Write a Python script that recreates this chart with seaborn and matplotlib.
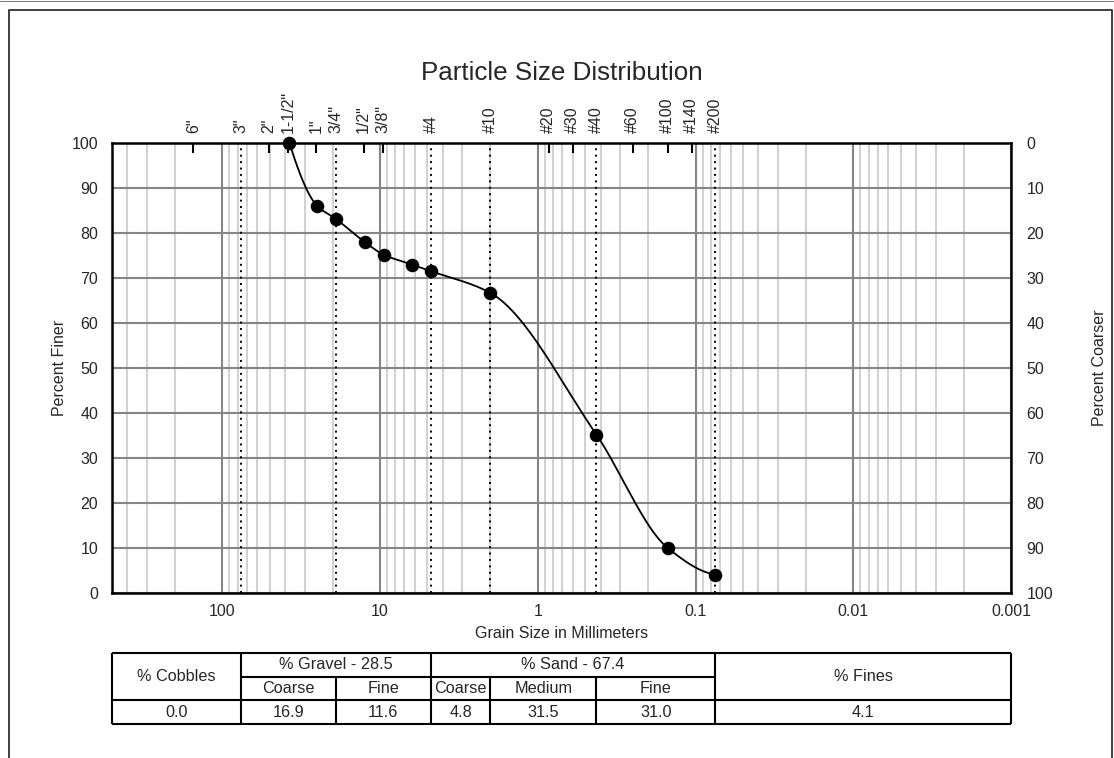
import numpy as np
import matplotlib
matplotlib.use("Agg")
import matplotlib.pyplot as plt
import matplotlib.ticker as mticker
from matplotlib.lines import Line2D
import seaborn as sns

# --- data ---
sieve_labels = ['6"', '3"', '2"', '1-1/2"', '1"', '3/4"', '1/2"', '3/8"',
                '#4', '#10', '#20', '#30', '#40', '#60', '#100', '#140', '#200']
sieve_sizes = [152.4, 76.2, 50.8, 38.1, 25.4, 19.05, 12.7, 9.525,
               4.75, 2.0, 0.85, 0.6, 0.425, 0.25, 0.15, 0.106, 0.075]
# sieves drawn as dotted lines (classification boundaries)
boundary_sizes = [76.2, 19.05, 4.75, 2.0, 0.425, 0.075]

test_sizes = [37.5, 25.0, 19.0, 12.5, 9.5, 6.3, 4.75, 2.0, 0.425, 0.15, 0.075]
percent_finer = [100.0, 86.0, 83.1, 78.0, 75.2, 73.0, 71.5, 66.7, 35.2, 10.0, 4.1]

x_ticks = [100, 10, 1, 0.1, 0.01, 0.001]
x_tick_labels = ["100", "10", "1", "0.1", "0.01", "0.001"]

cobbles = 0.0
gravel_total, gravel_coarse, gravel_fine = 28.5, 16.9, 11.6
sand_total, sand_coarse, sand_medium, sand_fine = 67.4, 4.8, 31.5, 31.0
fines = 4.1


def pchip(xk, yk, xs):
    # monotone cubic through the points, just for drawing the smooth line
    xk = np.asarray(xk, float)
    yk = np.asarray(yk, float)
    h = np.diff(xk)
    d = np.diff(yk) / h
    m = np.zeros_like(yk)
    for k in range(1, len(xk) - 1):
        if d[k - 1] * d[k] > 0:
            w1 = 2 * h[k] + h[k - 1]
            w2 = h[k] + 2 * h[k - 1]
            m[k] = (w1 + w2) / (w1 / d[k - 1] + w2 / d[k])

    def end(h0, h1, d0, d1):
        v = ((2 * h0 + h1) * d0 - h0 * d1) / (h0 + h1)
        if np.sign(v) != np.sign(d0):
            return 0.0
        if np.sign(d0) != np.sign(d1) and abs(v) > abs(3 * d0):
            return 3 * d0
        return v

    m[0] = end(h[0], h[1], d[0], d[1])
    m[-1] = end(h[-1], h[-2], d[-1], d[-2])
    idx = np.clip(np.searchsorted(xk, xs) - 1, 0, len(xk) - 2)
    t = (xs - xk[idx]) / h[idx]
    h00 = 2 * t**3 - 3 * t**2 + 1
    h10 = t**3 - 2 * t**2 + t
    h01 = -2 * t**3 + 3 * t**2
    h11 = t**3 - t**2
    return h00 * yk[idx] + h10 * h[idx] * m[idx] + h01 * yk[idx + 1] + h11 * h[idx] * m[idx + 1]


sns.set_style("white")
plt.rcParams['font.family'] = ['Liberation Sans', 'DejaVu Sans']

W, H = 1114, 758
fig = plt.figure(figsize=(W / 100, H / 100), dpi=100)
ax = fig.add_axes([112 / W, 1 - 593 / H, 899 / W, 450 / H])

# --- grid ---
ax.set_xscale("log")
ax.set_xlim(500, 0.001)
ax.set_ylim(0, 100)
ax.set_xticks(x_ticks)
ax.set_xticklabels(x_tick_labels)
ax.xaxis.set_minor_locator(mticker.LogLocator(base=10, subs=np.arange(2, 10), numticks=100))
ax.xaxis.set_minor_formatter(mticker.NullFormatter())
ax.set_yticks(np.arange(0, 101, 10))
ax.grid(which="minor", axis="x", color="#d2d2d2", lw=1.5)
ax.grid(which="major", axis="x", color="#858585", lw=1.5)
ax.grid(which="major", axis="y", color="#858585", lw=1.5)
ax.set_axisbelow(True)
ax.tick_params(axis="both", which="both", length=0, labelsize=11.5)
ax.tick_params(axis="x", pad=8)
ax.tick_params(axis="y", pad=10)
for s in ax.spines.values():
    s.set_color("black")
    s.set_linewidth(1.8)
    s.set_zorder(6)

# dotted boundary lines
for b in boundary_sizes:
    ax.axvline(b, color="black", lw=1.4, linestyle=(0, (1, 2.3)), zorder=2)

# sieve tick marks and labels along the top
ticked = [s for s in sieve_sizes if s not in boundary_sizes]
ax.vlines(ticked, 1 - 10 / 450, 1, transform=ax.get_xaxis_transform(),
          color="black", lw=1.5, zorder=3)
for lab, s in zip(sieve_labels, sieve_sizes):
    ax.annotate(lab, xy=(s, 1), xycoords=ax.get_xaxis_transform(),
                xytext=(0, 7.5), textcoords="offset points",
                rotation=90, ha="center", va="bottom", fontsize=11.5)

# --- gradation curve ---
lx = np.log10(test_sizes)[::-1]
ly = np.array(percent_finer)[::-1]
xs = np.linspace(lx[0], lx[-1], 400)
curve_y = pchip(lx, ly, xs)
sns.lineplot(x=10**xs, y=curve_y, sort=False, color="black", lw=1.3, ax=ax, zorder=4)
sns.scatterplot(x=test_sizes, y=percent_finer, color="black", s=95,
                edgecolor="black", linewidth=0, ax=ax, zorder=5, clip_on=False)

ax.set_xlabel("Grain Size in Millimeters", fontsize=11.5)
ax.xaxis.set_label_coords(0.5, -0.073)
ax.set_ylabel("Percent Finer", fontsize=11.5)
ax.yaxis.set_label_coords(-0.05, 0.5)

# right axis: percent coarser
ax2 = ax.twinx()
ax2.set_ylim(100, 0)
ax2.set_yticks(np.arange(0, 101, 10))
ax2.tick_params(axis="y", length=0, labelsize=11.5, pad=11)
ax2.set_ylabel("Percent Coarser", fontsize=11.5)
ax2.yaxis.set_label_coords(1.09, 0.5)
for s in ax2.spines.values():
    s.set_visible(False)

fig.text(562 / W, 1 - 73 / H, "Particle Size Distribution", fontsize=18.7,
         ha="center", va="center")

# --- classification table (shares the log grain size scale) ---
tax = fig.add_axes([112 / W, 1 - 724 / H, 899 / W, 71 / H])
tax.set_xscale("log")
tax.set_xlim(500, 0.001)
tax.set_ylim(0, 3)
tax.axis("off")
edges = [500] + boundary_sizes + [0.001]
kw = dict(color="black", lw=1.5, clip_on=False)
tax.hlines([0, 1, 3], 500, 0.001, **kw)
tax.hlines(2, 76.2, 0.075, **kw)
tax.vlines([500, 76.2, 4.75, 0.075, 0.001], 0, 3, **kw)
tax.vlines([19.05, 2.0, 0.425], 0, 2, **kw)


def mid(a, b):
    return np.sqrt(a * b)


tfs = 11.7
tax.text(mid(500, 76.2), 2, "% Cobbles", ha="center", va="center", fontsize=tfs)
tax.text(mid(76.2, 4.75), 2.5, f"% Gravel - {gravel_total:.1f}", ha="center", va="center", fontsize=tfs)
tax.text(mid(4.75, 0.075), 2.5, f"% Sand - {sand_total:.1f}", ha="center", va="center", fontsize=tfs)
tax.text(mid(0.075, 0.001), 2, "% Fines", ha="center", va="center", fontsize=tfs)
sub = ["Coarse", "Fine", "Coarse", "Medium", "Fine"]
for i, lab in enumerate(sub):
    tax.text(mid(edges[i + 1], edges[i + 2]), 1.5, lab, ha="center", va="center", fontsize=tfs)
vals = [cobbles, gravel_coarse, gravel_fine, sand_coarse, sand_medium, sand_fine, fines]
for i, v in enumerate(vals):
    tax.text(mid(edges[i], edges[i + 1]), 0.5, f"{v:.1f}", ha="center", va="center", fontsize=tfs)

# page frame
fig.add_artist(Line2D([9 / W, 9 / W, 1112 / W, 1112 / W], [0, 1 - 10 / H, 1 - 10 / H, 0],
                      transform=fig.transFigure, color="#303030", lw=1.3))
fig.add_artist(Line2D([0, 1], [1 - 0.5 / H, 1 - 0.5 / H],
                      transform=fig.transFigure, color="#808080", lw=0.8))

fig.savefig("out.png", dpi=100)
